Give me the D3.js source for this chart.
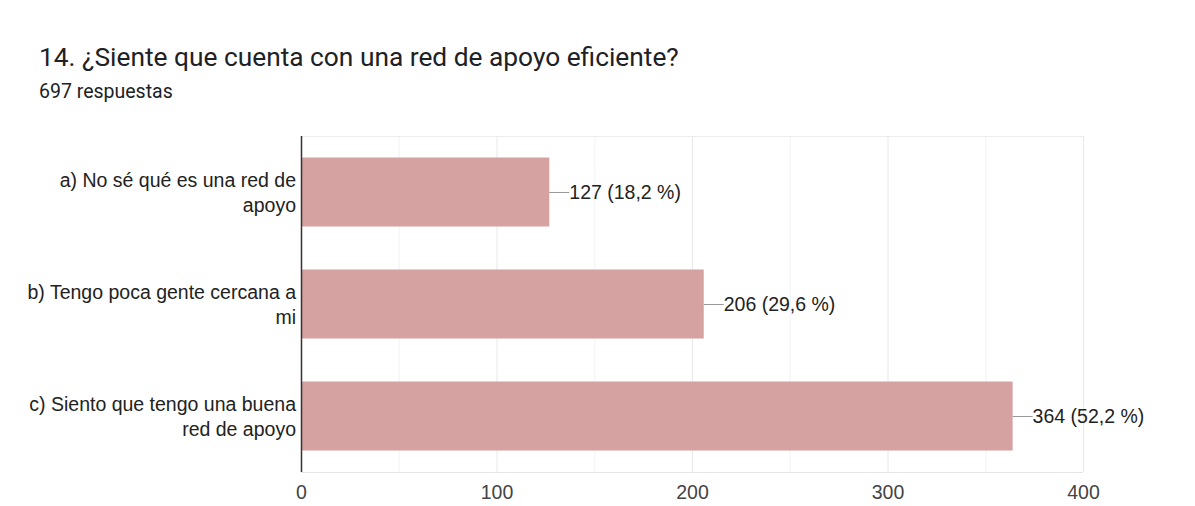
<!DOCTYPE html>
<html lang="es">
<head>
<meta charset="utf-8">
<title>Red de apoyo</title>
<script src="https://d3js.org/d3.v7.min.js"></script>
<style>
  body { margin: 0; background: #fff; }
  .title { font-family: Roboto, sans-serif; font-size: 26.3px; fill: #202124; }
  .sub { font-family: Roboto, sans-serif; font-size: 19.5px; fill: #202124; }
  .lab { font-family: "Liberation Sans", Arial, sans-serif; font-size: 19.5px; fill: #222; }
  .tick text { font-family: "Liberation Sans", Arial, sans-serif; font-size: 19.5px; fill: #444; }
</style>
</head>
<body>
<svg width="1195" height="506"></svg>
<script>
// data
var categories = ['a) No sé qué es una red de|apoyo', 'b) Tengo poca gente cercana a|mi', 'c) Siento que tengo una buena|red de apoyo'];
var counts = [127, 206, 364];
var percents = ['18,2', '29,6', '52,2'];
var tickValues = [0, 100, 200, 300, 400];
var minorTicks = [50, 150, 250, 350];

var svg = d3.select('svg');
var plotLeft = 301, plotRight = 1083, plotTop = 136, plotBottom = 472;

var x = d3.scaleLinear().domain([0, 400]).range([plotLeft, plotRight]);
var y = d3.scaleBand().domain(d3.range(categories.length)).range([plotTop, plotBottom])
  .paddingInner(0.384).paddingOuter(0.192);

svg.append('text').attr('class', 'title').attr('x', 39).attr('y', 66)
  .text('14. ¿Siente que cuenta con una red de apoyo eficiente?');
svg.append('text').attr('class', 'sub').attr('x', 39).attr('y', 98).text('697 respuestas');

// gridlines
svg.append('g').selectAll('line').data(minorTicks).enter().append('line')
  .attr('x1', d => x(d) + 0.5).attr('x2', d => x(d) + 0.5)
  .attr('y1', plotTop).attr('y2', plotBottom).attr('stroke', '#f3f3f3');
svg.append('g').selectAll('line').data(tickValues.slice(1)).enter().append('line')
  .attr('x1', d => x(d) + 0.5).attr('x2', d => x(d) + 0.5)
  .attr('y1', plotTop).attr('y2', plotBottom).attr('stroke', '#e8e8e8');
svg.append('line').attr('x1', plotLeft).attr('x2', plotRight).attr('y1', plotTop + 0.5).attr('y2', plotTop + 0.5).attr('stroke', '#ececec');
svg.append('line').attr('x1', plotLeft).attr('x2', plotRight).attr('y1', plotBottom + 0.5).attr('y2', plotBottom + 0.5).attr('stroke', '#e6e6e6');

// bars
svg.append('g').selectAll('rect').data(counts).enter().append('rect')
  .attr('x', plotLeft).attr('y', (d, i) => y(i))
  .attr('width', d => x(d) - plotLeft).attr('height', y.bandwidth())
  .attr('fill', '#d5a1a1');

// value annotations
var ann = svg.append('g').selectAll('g').data(counts).enter().append('g');
ann.append('line')
  .attr('x1', d => x(d)).attr('x2', d => x(d) + 20)
  .attr('y1', (d, i) => y(i) + y.bandwidth() / 2 + 0.5)
  .attr('y2', (d, i) => y(i) + y.bandwidth() / 2 + 0.5)
  .attr('stroke', '#999');
ann.append('text').attr('class', 'lab')
  .attr('x', d => x(d) + 20).attr('y', (d, i) => y(i) + y.bandwidth() / 2 + 7)
  .text((d, i) => d + ' (' + percents[i] + ' %)');

// category labels
var cl = svg.append('g').selectAll('text').data(categories).enter().append('text')
  .attr('class', 'lab').attr('text-anchor', 'end')
  .attr('y', (d, i) => y(i) + y.bandwidth() / 2);
cl.selectAll('tspan').data(d => d.split('|')).enter().append('tspan')
  .attr('x', 296).attr('dy', (d, j) => j === 0 ? -5 : 25).text(d => d);

// axes
svg.append('line').attr('x1', plotLeft + 0.5).attr('x2', plotLeft + 0.5)
  .attr('y1', plotTop).attr('y2', plotBottom).attr('stroke', '#333').attr('stroke-width', 1.5);

svg.append('g').attr('transform', 'translate(0,' + plotBottom + ')')
  .call(d3.axisBottom(x).tickValues(tickValues).tickSize(0).tickPadding(13))
  .call(g => g.select('.domain').remove());
</script>
</body>
</html>
